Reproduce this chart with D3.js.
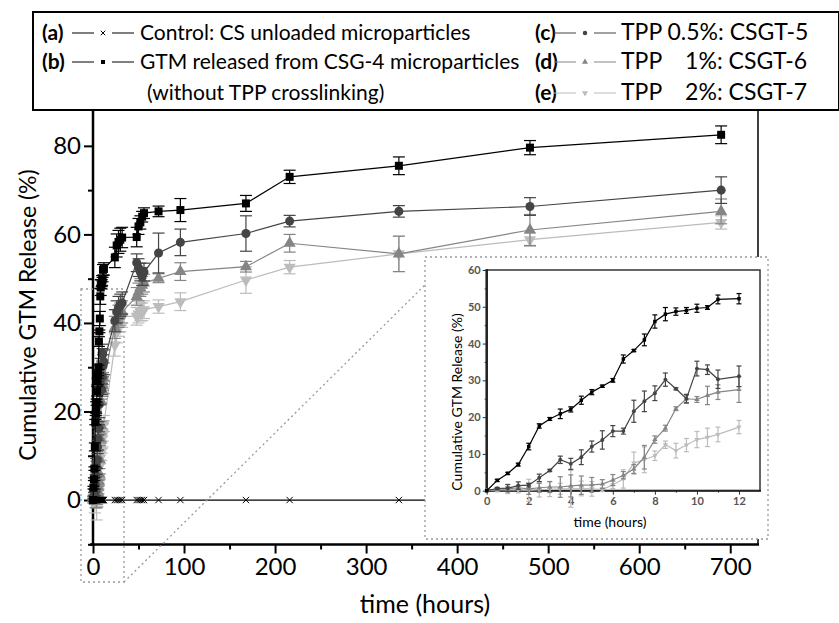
<!DOCTYPE html>
<html>
<head>
<meta charset="utf-8">
<script src="https://cdn.jsdelivr.net/npm/d3@7"></script>
<style>
  body { margin: 0; background: #fff; }
  svg text { font-family: Lato, "Open Sans", sans-serif; }
</style>
</head>
<body>
<div id="chart"></div>
<script>
/**
 * DATA
 * */
const hours = [0, 0.5, 1, 1.5, 2, 2.5, 3, 3.5, 4, 4.5, 5, 5.5, 6, 6.5, 7, 7.5, 8, 8.5, 9, 9.5, 10, 10.5, 11, 12,
  24, 26, 28, 30, 32, 48, 50, 52, 54, 56, 72, 96, 168, 216, 336, 480, 690];

// (a) control, unloaded particles
const control = [0,0,0,0,0,0,0,0,0,0,0,0,0,0,0,0,0,0,0,0,0,0,0,0, 0,0,0,0,0, 0,0,0,0,0, 0,0,0,0,0,0,0];
// (b) CSG-4
const csg4 = [0, 2.8, 4.7, 7.1, 12, 17.6, 19.5, 20.9, 22.1, 24.6, 26.8, 28.4, 30, 35.8, 38.1, 41, 46, 48, 48.7, 49, 49.6, 49.8, 52, 52.2,
  54.8, 57.5, 58.3, 58.8, 59.3, 59.4, 61.8, 62.7, 64, 64.8, 65.2, 65.5, 67, 73, 75.5, 79.6, 82.5];
const csg4Err = [0, 0.3, 0.3, 0.4, 0.9, 0.6, 0.4, 1.3, 0.7, 1.1, 0.7, 0.3, 0.5, 1.1, 0.3, 1.6, 1.8, 1.8, 1, 0.8, 1.1, 0.5, 1.2, 1.4,
  2.3, 2.6, 2.6, 2.6, 2.3, 2.2, 1.8, 1.5, 1.2, 1.2, 1.2, 2.6, 1.8, 1.5, 2, 1.6, 2];
// (c) TPP 0.5%
const csgt5 = [0, 0.6, 0.7, 1.4, 1.5, 3.5, 5.5, 8.4, 7.3, 9.1, 12, 13.8, 16.2, 16.2, 21.6, 24.3, 26.5, 30.2, 27.7, 25, 33.2, 32.9, 30.3, 31.1,
  40.5, 42.5, 43.5, 44, 44.5, 53.6, 52.5, 51.5, 50.5, 51.5, 55.8, 58.2, 60.2, 63, 65.2, 66.3, 70];
const csgt5Err = [0, 0.3, 1, 1, 0.5, 1, 0.3, 1, 1.5, 2, 1.5, 2.5, 1.5, 0.8, 3, 2.8, 2, 1.8, 0.3, 1.2, 2, 1.3, 2.5, 2.8,
  2.5, 2.5, 2.5, 2.5, 2.5, 2, 2, 2, 2, 2, 4.5, 3, 4, 1.3, 1.3, 2, 3];
// (d) TPP 1%
const csgt6 = [0, 0.5, 0.5, 0.8, 0.5, 0.8, 1, 1, 1.3, 1.5, 1.6, 1.8, 2.9, 4.2, 5.9, 9.1, 13.9, 17, 22.3, 25, 24.8, 25.9, 26.8, 27.5,
  39, 40.5, 41.5, 42, 42.5, 46, 47, 48, 48.5, 49, 50.1, 51.6, 52.7, 58, 55.6, 61, 65.2];
const csgt6Err = [0, 0.3, 0.5, 0.5, 1.5, 1.2, 1.5, 2.8, 3, 2.5, 2, 1.2, 1.5, 1, 1.2, 3.2, 1, 0.8, 0.5, 1, 0.8, 2.5, 2, 3.5,
  2.5, 2.5, 2.5, 2.5, 2.5, 2, 2, 2, 2, 2, 1, 2, 1.2, 2, 4, 3.5, 2.8];
// (e) TPP 2%
const csgt7 = [0, 0.2, 0.2, 0.2, 0.1, 0.3, 0.4, 0.5, 0.5, 0.6, 0.5, 0.3, 1.6, 3.2, 7.5, 8.4, 9.5, 12.5, 10.9, 12.4, 13.9, 14.5, 15.3, 17.3,
  35, 38, 39.5, 40.5, 41.5, 41.5, 42, 42.5, 42.5, 43, 43.7, 44.8, 49.7, 52.6, 55.6, 58.8, 62.7];
const csgt7Err = [0, 0.5, 1, 0.8, 3, 2, 2, 1.5, 5, 2, 2, 0.5, 1, 2.5, 3, 3.5, 1.3, 1, 2, 1.8, 2.2, 2.5, 2, 1.8,
  2.5, 2.5, 2.5, 2.5, 2.5, 2, 2, 2, 2, 2, 1.5, 2, 3, 1.5, 4, 1.5, 1.5];

const yTicksMain = [0, 20, 40, 60, 80];
const xTicksMain = [0, 100, 200, 300, 400, 500, 600, 700];
const yTicksInset = [0, 10, 20, 30, 40, 50, 60];
const xTicksInset = [0, 2, 4, 6, 8, 10, 12];

const legendRows = [
  ["(a)", "Control: CS unloaded microparticles", "(c)", "TPP 0.5%: CSGT-5"],
  ["(b)", "GTM released from CSG-4 microparticles", "(d)", "TPP\u00a0\u00a0\u00a0 1%: CSGT-6"],
  ["", "(without TPP crosslinking)", "(e)", "TPP\u00a0\u00a0\u00a0 2%: CSGT-7"]
];

/**
 * SETUP
 * */
const width = 839, height = 623;

const svg = d3.select("#chart").append("svg")
  .attr("width", width).attr("height", height);

const timesSym = { draw(ctx, size) {
  const r = Math.sqrt(size) / 2;
  ctx.moveTo(-r, -r); ctx.lineTo(r, r);
  ctx.moveTo(r, -r); ctx.lineTo(-r, r);
}};

// drawn back to front
const series = [
  { name: "e", values: csgt7, err: csgt7Err, color: "#bcbcbc", sym: d3.symbolTriangle, rot: 180 },
  { name: "d", values: csgt6, err: csgt6Err, color: "#858585", sym: d3.symbolTriangle, rot: 0 },
  { name: "c", values: csgt5, err: csgt5Err, color: "#444", sym: d3.symbolCircle, rot: 0 },
  { name: "b", values: csg4, err: csg4Err, color: "#000", sym: d3.symbolSquare, rot: 0 },
  { name: "a", values: control, err: null, color: "#000", sym: timesSym, rot: 0 }
];

function pts(s, maxH) {
  return hours.map((h, i) => ({ h: h, v: s.values[i], e: s.err ? s.err[i] : 0 }))
    .filter(d => d.h <= maxH);
}

function drawSeries(g, x, y, maxH, opt) {
  series.forEach(s => {
    if (opt.skipControl && s.name === "a") return;
    const data = pts(s, maxH);
    const sg = g.append("g").attr("class", "series-" + s.name);
    sg.append("path")
      .datum(data)
      .attr("fill", "none")
      .attr("stroke", s.color)
      .attr("stroke-width", opt.lw)
      .attr("d", d3.line().x(d => x(d.h)).y(d => y(d.v)));
    if (s.err) {
      const eb = sg.selectAll(".eb").data(data.filter(d => d.e > 0)).join("g");
      eb.append("line")
        .attr("x1", d => x(d.h)).attr("x2", d => x(d.h))
        .attr("y1", d => y(d.v - d.e)).attr("y2", d => y(d.v + d.e))
        .attr("stroke", s.color).attr("stroke-width", 1.2);
      [-1, 1].forEach(k => {
        eb.append("line")
          .attr("x1", d => x(d.h) - opt.cap).attr("x2", d => x(d.h) + opt.cap)
          .attr("y1", d => y(d.v + k * d.e)).attr("y2", d => y(d.v + k * d.e))
          .attr("stroke", s.color).attr("stroke-width", 1.2);
      });
    }
    sg.selectAll(".mk").data(data).join("path")
      .attr("transform", d => `translate(${x(d.h)},${y(d.v)}) rotate(${s.rot})`)
      .attr("d", d3.symbol(s.sym, s.name === "a" ? opt.xsize : opt.size)())
      .attr("fill", s.name === "a" ? "none" : s.color)
      .attr("stroke", s.name === "a" ? "#000" : "none")
      .attr("stroke-width", 1);
  });
}

/**
 * MAIN PLOT
 * */
const x = d3.scaleLinear().domain([-3.3, 730.5]).range([90, 758]);
const y = d3.scaleLinear().domain([-10, 88.1]).range([544.3, 110]);

const main = svg.append("g");

// axes ticks
main.append("g")
  .attr("transform", "translate(93,0)")
  .call(d3.axisLeft(y).tickValues(yTicksMain).tickSize(9).tickPadding(3))
  .call(g => g.select(".domain").remove())
  .call(g => g.selectAll("line").attr("stroke-width", 2))
  .call(g => g.selectAll("text").attr("font-size", 24).attr("fill", "#000")
    .attr("font-family", "Lato"));
main.append("g")
  .attr("transform", "translate(93,0)")
  .call(d3.axisLeft(y).tickValues([-10, 10, 30, 50, 70]).tickSize(5).tickFormat(""))
  .call(g => g.select(".domain").remove())
  .call(g => g.selectAll("line").attr("stroke-width", 2));
main.append("g")
  .attr("transform", "translate(0,544.5)")
  .call(d3.axisBottom(x).tickValues(xTicksMain).tickSize(9).tickPadding(4))
  .call(g => g.select(".domain").remove())
  .call(g => g.selectAll("line").attr("stroke-width", 2))
  .call(g => g.selectAll("text").attr("font-size", 24).attr("fill", "#000")
    .attr("font-family", "Lato"));
main.append("g")
  .attr("transform", "translate(0,544.5)")
  .call(d3.axisBottom(x).tickValues([50, 150, 250, 350, 450, 550, 650]).tickSize(5).tickFormat(""))
  .call(g => g.select(".domain").remove())
  .call(g => g.selectAll("line").attr("stroke-width", 2));

// frame
main.append("line").attr("x1", 758).attr("x2", 758).attr("y1", 110).attr("y2", 545)
  .attr("stroke", "#000").attr("stroke-width", 1.5);
main.append("line").attr("x1", 93).attr("x2", 93).attr("y1", 110).attr("y2", 546)
  .attr("stroke", "#000").attr("stroke-width", 2.5);
main.append("line").attr("x1", 90).attr("x2", 759).attr("y1", 544.5).attr("y2", 544.5)
  .attr("stroke", "#000").attr("stroke-width", 2.5);

// zoom indicator
const dot = { stroke: "#999", "stroke-width": 1.3, "stroke-dasharray": "2,3", fill: "none" };
const zr = main.append("rect").attr("x", 81).attr("y", 289).attr("width", 43).attr("height", 293);
Object.entries(dot).forEach(([k, v]) => zr.attr(k, v));

drawSeries(main.append("g"), x, y, 1000, { lw: 1.2, cap: 6, size: 64, xsize: 40 });

const diag = main.append("line").attr("x1", 124).attr("y1", 582).attr("x2", 428).attr("y2", 282);
Object.entries(dot).forEach(([k, v]) => diag.attr(k, v));

// axis titles
svg.append("text")
  .attr("transform", "translate(36,315) rotate(-90)")
  .attr("text-anchor", "middle")
  .attr("font-size", 23)
  .text("Cumulative GTM Release (%)");
svg.append("text")
  .attr("x", 425).attr("y", 613)
  .attr("text-anchor", "middle")
  .attr("font-size", 25)
  .text("time (hours)");

/**
 * INSET
 * */
const inset = svg.append("g");
const ib = inset.append("rect").attr("x", 425).attr("y", 257).attr("width", 343).attr("height", 282);
Object.entries(dot).forEach(([k, v]) => ib.attr(k, v));
ib.attr("fill", "#fff");

const xi = d3.scaleLinear().domain([0, 13]).range([486.7, 760]);
const yi = d3.scaleLinear().domain([0, 60]).range([490.7, 270]);

const serif = "'Liberation Serif', 'DejaVu Serif', serif";
inset.append("g")
  .attr("transform", "translate(486.7,0)")
  .call(d3.axisLeft(yi).tickValues(yTicksInset).tickSize(4).tickPadding(2))
  .call(g => g.select(".domain").remove())
  .call(g => g.selectAll("line").attr("stroke", "#333"))
  .call(g => g.selectAll("text").attr("font-size", 11).attr("fill", "#555")
    .attr("font-family", serif).attr("font-weight", "bold"));
inset.append("g")
  .attr("transform", "translate(486.7,0)")
  .call(d3.axisLeft(yi).tickValues([5, 15, 25, 35, 45, 55]).tickSize(2).tickFormat(""))
  .call(g => g.select(".domain").remove())
  .call(g => g.selectAll("line").attr("stroke", "#333"));
inset.append("g")
  .attr("transform", "translate(0,490.7)")
  .call(d3.axisBottom(xi).tickValues(xTicksInset).tickSize(4).tickPadding(3))
  .call(g => g.select(".domain").remove())
  .call(g => g.selectAll("line").attr("stroke", "#333"))
  .call(g => g.selectAll("text").attr("font-size", 11).attr("fill", "#555")
    .attr("font-family", serif).attr("font-weight", "bold"));
inset.append("g")
  .attr("transform", "translate(0,490.7)")
  .call(d3.axisBottom(xi).tickValues([1, 3, 5, 7, 9, 11]).tickSize(2).tickFormat(""))
  .call(g => g.select(".domain").remove())
  .call(g => g.selectAll("line").attr("stroke", "#333"));

inset.append("rect")
  .attr("x", 486.7).attr("y", 270).attr("width", 760 - 486.7).attr("height", 490.7 - 270)
  .attr("fill", "none").attr("stroke", "#333").attr("stroke-width", 1.5);
inset.append("line").attr("x1", 486.7).attr("x2", 486.7).attr("y1", 269).attr("y2", 492)
  .attr("stroke", "#222").attr("stroke-width", 2.5);
inset.append("line").attr("x1", 485).attr("x2", 761).attr("y1", 490.7).attr("y2", 490.7)
  .attr("stroke", "#222").attr("stroke-width", 2);

drawSeries(inset.append("g"), xi, yi, 12, { lw: 1.2, cap: 2.5, size: 12, xsize: 10, skipControl: true });

inset.append("text")
  .attr("transform", "translate(462,402) rotate(-90)")
  .attr("text-anchor", "middle")
  .attr("font-size", 14)
  .text("Cumulative GTM Release (%)");
inset.append("text")
  .attr("x", 610).attr("y", 527)
  .attr("text-anchor", "middle")
  .attr("font-size", 14)
  .text("time (hours)");

/**
 * LEGEND
 * */
const leg = svg.append("g");
leg.append("rect").attr("x", 33).attr("y", 12).attr("width", 806).attr("height", 98)
  .attr("fill", "none").attr("stroke", "#000").attr("stroke-width", 2);

const legSeries = { "(a)": series[4], "(b)": series[3], "(c)": series[2], "(d)": series[1], "(e)": series[0] };
const rowY = [40, 69, 100];
legendRows.forEach((r, i) => {
  const yy = rowY[i];
  [[r[0], r[1], 42, 72, 140, 21], [r[2], r[3], 535, 554, 621, 23]].forEach(([tag, label, tx, lx, textX, fs]) => {
    if (tag) {
      leg.append("text").attr("x", tx).attr("y", yy).attr("font-size", 21).attr("font-weight", "bold").text(tag);
      const s = legSeries[tag];
      leg.append("line").attr("x1", lx).attr("x2", lx + 62).attr("y1", yy - 7).attr("y2", yy - 7)
        .attr("stroke", s.color).attr("stroke-width", 1.2);
      leg.append("rect").attr("x", lx + 22).attr("y", yy - 12).attr("width", 18).attr("height", 10).attr("fill", "#fff");
      leg.append("path")
        .attr("transform", `translate(${lx + 31},${yy - 7}) rotate(${s.rot})`)
        .attr("d", d3.symbol(s.sym, s.name === "a" ? 20 : 16)())
        .attr("fill", s.name === "a" ? "none" : s.color)
        .attr("stroke", s.name === "a" ? "#000" : "none");
    }
    leg.append("text").attr("x", tag ? textX : 147).attr("y", yy).attr("font-size", fs).text(label);
  });
});
</script>
</body>
</html>
